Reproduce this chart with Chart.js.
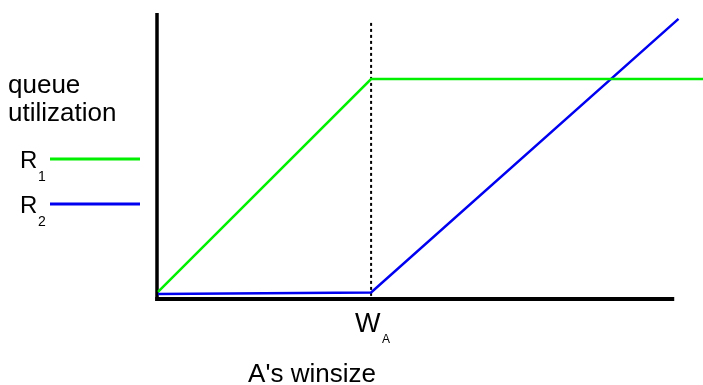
<!DOCTYPE html>
<html>
<head>
<meta charset="utf-8">
<script src="https://cdn.jsdelivr.net/npm/chart.js@4/dist/chart.umd.min.js"></script>
<style>
  html, body { margin: 0; padding: 0; background: #fff; }
  #wrap { position: relative; width: 703px; height: 385px; }
</style>
</head>
<body>
<div id="wrap"><canvas id="util-chart"></canvas></div>
<script>
// window size (x) vs queue utilization (y), piecewise-linear curves
const r1X = [0, 4, 10.3];
const r1Y = [0.032, 1.0, 1.0];
const r2X = [0, 4, 9.77];
const r2Y = [0.023, 0.03, 1.273];
const wA = 4;
const wATop = 1.255;
const xAxisEnd = 9.69;

const GREEN = "#00f000";
const BLUE = "#0000f0";
const FONT = "'Liberation Sans', Arial, sans-serif";

function toPoints(xs, ys) {
  return xs.map((x, i) => ({ x, y: ys[i] }));
}

const axesPlugin = {
  id: "axes",
  beforeDatasetsDraw(chart) {
    const { ctx, chartArea, scales } = chart;
    const x0 = scales.x.getPixelForValue(0);
    const y0 = scales.y.getPixelForValue(0);
    ctx.save();
    ctx.strokeStyle = "#000";
    ctx.lineCap = "butt";

    // vertical axis
    ctx.lineWidth = 3.5;
    ctx.beginPath();
    ctx.moveTo(x0 - 1, chartArea.top);
    ctx.lineTo(x0 - 1, y0 + 2);
    ctx.stroke();

    // horizontal axis
    ctx.lineWidth = 4;
    ctx.beginPath();
    ctx.moveTo(x0 - 2.75, y0);
    ctx.lineTo(scales.x.getPixelForValue(xAxisEnd), y0);
    ctx.stroke();

    // dotted marker at W_A
    const xw = scales.x.getPixelForValue(wA);
    ctx.lineWidth = 2;
    ctx.setLineDash([3, 3]);
    ctx.beginPath();
    ctx.moveTo(xw, scales.y.getPixelForValue(wATop));
    ctx.lineTo(xw, y0 - 2);
    ctx.stroke();
    ctx.restore();
  },
  afterDraw(chart) {
    const { ctx } = chart;
    ctx.save();
    ctx.fillStyle = "#000";
    ctx.textBaseline = "alphabetic";
    ctx.textAlign = "left";

    ctx.font = "26px " + FONT;
    ctx.fillText("queue", 8, 93);
    ctx.fillText("utilization", 8, 121);

    // legend entries
    const entries = [
      { name: "R", sub: "1", color: GREEN, y: 159 },
      { name: "R", sub: "2", color: BLUE, y: 204 },
    ];
    entries.forEach((e) => {
      ctx.font = "24px " + FONT;
      ctx.fillText(e.name, 20, e.y + 9);
      ctx.font = "14px " + FONT;
      ctx.fillText(e.sub, 38, e.y + 22);
      ctx.strokeStyle = e.color;
      ctx.lineWidth = 3;
      ctx.beginPath();
      ctx.moveTo(50, e.y);
      ctx.lineTo(140, e.y);
      ctx.stroke();
    });

    // x-axis labels
    ctx.font = "27px " + FONT;
    ctx.fillText("W", 355, 332);
    ctx.font = "12px " + FONT;
    ctx.fillText("A", 382, 343);
    ctx.font = "26px " + FONT;
    ctx.textAlign = "center";
    ctx.fillText("A's winsize", 312, 382);
    ctx.restore();
  },
};

new Chart(document.getElementById("util-chart"), {
  type: "scatter",
  data: {
    datasets: [
      {
        label: "R1",
        data: toPoints(r1X, r1Y),
        showLine: true,
        borderColor: GREEN,
        borderWidth: 2.5,
        pointRadius: 0,
        clip: false,
      },
      {
        label: "R2",
        data: toPoints(r2X, r2Y),
        showLine: true,
        borderColor: BLUE,
        borderWidth: 2.5,
        pointRadius: 0,
        clip: false,
      },
    ],
  },
  options: {
    responsive: true,
    maintainAspectRatio: false,
    animation: false,
    layout: { padding: { left: 158, top: 13, right: 0, bottom: 86 } },
    plugins: {
      legend: { display: false },
      tooltip: { enabled: false },
    },
    scales: {
      x: { type: "linear", min: 0, max: 10.23, display: false },
      y: { type: "linear", min: 0, max: 1.3, display: false },
    },
  },
  plugins: [axesPlugin],
});
</script>
</body>
</html>
